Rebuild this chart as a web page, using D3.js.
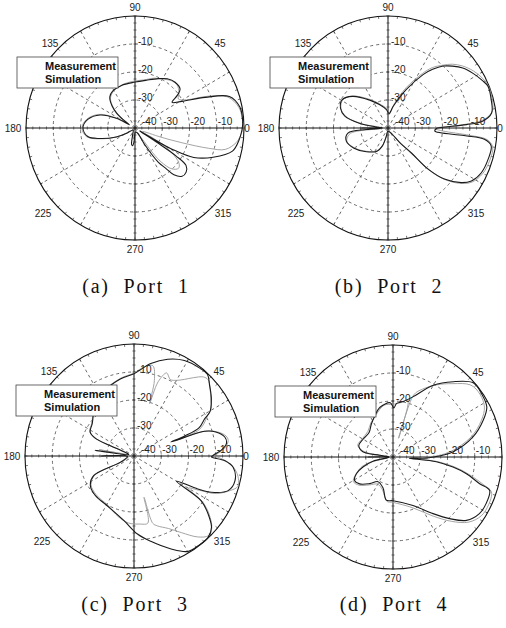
<!DOCTYPE html>
<meta charset="utf-8">
<style>
  body { margin: 0; background: #fff; }
  svg { display: block; }
  .lbl { font-family: Arial, "Liberation Sans", sans-serif; font-size: 10px; fill: #222; }
  .leg { font-family: Arial, "Liberation Sans", sans-serif; font-size: 11px; font-weight: bold; fill: #111; }
  .cap { font-family: "Liberation Serif", "Times New Roman", serif; font-size: 20px; fill: #111; word-spacing: 7px; letter-spacing: 1.8px; }
</style>
<svg width="506" height="628"></svg>
<script src="https://cdn.jsdelivr.net/npm/d3@7"></script>
<script>

// pattern data: [angle in degrees, level in dB], in drawing order
var port1Meas = [[0,-0.6],[4,-0.4],[11,-0.8],[18,-3.6],[23,-12],[29,-20.4],[34,-23.6],[37,-20.5],[40,-18.4],[48,-18],[56,-18.8],[64,-20.4],[76,-22.4],[90,-23.6],[108,-24],[122,-24.5],[130,-25.6],[137,-28.5],[142,-31.5],[146,-35],[150,-37.5],[153,-32.4],[160,-26.4],[170,-22.4],[180,-20.9],[190,-22.4],[196,-26.4],[205,-32.4],[212,-36.5],[225,-39],[250,-37.5],[258,-34],[262,-33.6],[266,-35],[275,-38.5],[297,-38],[301,-33],[305,-25],[308,-21.8],[310.5,-18],[315,-15.6],[320,-15.5],[324.5,-17],[326.5,-22],[327.5,-30],[328.5,-38],[329.5,-34],[331,-24],[334,-16],[340,-9.5],[347,-3.3],[354,-1.5],[360,-0.6]];
var port1Sim = [[0,-0.3],[5,-0.5],[11,-1.2],[18,-4.2],[23,-11],[28,-18.5],[33,-21],[38,-19.5],[45,-18.2],[52,-18.5],[58,-19.5],[68,-20.8],[80,-22.6],[90,-23.2],[105,-23.8],[120,-24.6],[130,-26],[137,-29],[143,-33],[149,-37],[154,-31],[160,-25.8],[170,-22],[180,-20.5],[190,-22],[197,-26.8],[206,-33],[214,-38],[240,-39],[262,-36],[280,-38.5],[300,-37],[303,-36],[308,-25],[313,-20],[318,-18.5],[322,-19.5],[327,-24],[331,-31],[334,-37],[336,-37],[341,-30],[343,-22],[345,-12],[347,-6],[352,-2.5],[356,-1.2],[360,-0.3]];

var port2Meas = [[0,-22],[1,-18.8],[2.4,-11.2],[4,-5.2],[8,-1.6],[15,-0.8],[22,-0.4],[26,-1.4],[32,-3.2],[38,-5.2],[43,-7.6],[47.5,-10],[52,-13.4],[56,-17],[64,-24.8],[76,-32],[86,-34.8],[95,-33.4],[110,-31.2],[124,-28],[139,-22.8],[149,-20.4],[158,-21.2],[165,-23.6],[171,-29.6],[175,-35.6],[178,-38],[180,-30.4],[182,-38],[184,-32],[187,-25.2],[197,-24],[210,-25.6],[227,-28.4],[244,-30.8],[252,-33.2],[258,-36.8],[268,-38.8],[300,-38],[310,-32.8],[314,-27.6],[315,-19.2],[318.6,-12.4],[324,-6.8],[328.3,-4],[335,-2.2],[343,-1.6],[350.4,-1.6],[353.5,-4.4],[354.5,-12],[356.4,-22.8],[360,-22]];
var port2Sim = [[0,-24],[1.5,-17],[3,-10],[5,-4.5],[9,-1.2],[15,-0.4],[22,-0.2],[27,-1],[33,-2.6],[39,-4.8],[44,-7.2],[48,-9.8],[53,-13],[57,-16.8],[65,-24],[75,-31],[85,-35],[95,-33],[110,-30.8],[124,-27.6],[139,-22.6],[149,-20.6],[158,-21.4],[165,-24],[171,-30],[176,-37],[180,-31.5],[184,-37],[188,-26],[197,-24.2],[210,-25.8],[227,-28.6],[244,-31],[252,-33.5],[258,-37],[270,-39],[300,-38.5],[308,-34],[313,-28],[315,-20],[318,-13],[323,-7.2],[328,-3.6],[335,-1.6],[343,-0.9],[350,-1],[353.5,-3.4],[355,-10],[357,-20],[360,-24]];

var port3Meas = [[0,-11.2],[1.2,-10.4],[3.6,-8],[7.4,-5.8],[11.5,-6],[16,-8.8],[18.8,-12.6],[19.7,-21.6],[20.3,-25.6],[21,-20],[23,-14],[27.2,-10.8],[29.5,-8],[35.8,-5],[42.3,-2.5],[47.3,-0.3],[52.2,-0.4],[61.5,-1.2],[70.3,-3.3],[79.4,-6.4],[90,-10.6],[100,-12],[115,-14.4],[130,-17.6],[143,-20.8],[152,-21.8],[156,-24.5],[157,-30.6],[158,-36],[165,-38],[172,-25.6],[175,-36.8],[180,-28],[184,-37.6],[204,-34.6],[205.4,-23.6],[213.5,-20.8],[225,-20],[241,-19.7],[261,-16.6],[272.6,-12.1],[281.4,-8.9],[292.3,-4.1],[300.1,-0.6],[307.1,-0.2],[313.1,-0.2],[318.1,-1.8],[322.7,-5.8],[327,-10.6],[330,-22],[333.3,-13.8],[335.5,-8.8],[340.3,-3.3],[346.6,-1.9],[353.7,-3.4],[357.1,-6.6],[359.3,-11.6],[360,-11.2]];
var port3Sim = [[0,-10.5],[2,-9],[5,-6.5],[9,-5],[12,-5.5],[16,-8.5],[19,-13],[20,-24],[21,-15],[24,-12],[28,-9.5],[31,-7],[36,-5.2],[41,-3],[45,-1.5],[48,-2],[52,-4.5],[56,-7],[60,-8.8],[64,-9.6],[68,-8],[71.5,-12],[73,-20.4],[74.5,-12],[78,-7],[84,-8.2],[90,-10.4],[100,-11.8],[115,-14.2],[130,-17.4],[143,-20.6],[152,-21.6],[156,-25],[157.5,-33],[162,-38],[170,-27],[173,-37],[181,-29],[185,-38],[204,-36],[205.5,-24],[213,-21.2],[225,-20.4],[241,-20],[255,-17.6],[265,-16],[275,-15.6],[282,-15.5],[284,-24.8],[286,-15],[289,-13.6],[296,-11.2],[302.4,-7.6],[309,-2.8],[314,-0.5],[318,-1.6],[323,-5.5],[327,-10],[330,-17],[333,-13],[336,-7],[341,-2.4],[344,-0.4],[348,-0.8],[353,-2.8],[357,-6.2],[360,-10.5]];

var port4Meas = [[0,-25.2],[4.7,-18],[13.7,-9.8],[21.6,-4.4],[27.5,-1.2],[35,-0.4],[42,-0.4],[50.6,-5.2],[60,-10.4],[71,-17.2],[80,-20],[86,-20.8],[89,-22.4],[93,-20.6],[105,-21.6],[115,-24],[124,-25.8],[135,-27.6],[150,-27.3],[162,-26.8],[170.5,-28.8],[173,-35],[177,-38.5],[180,-30.8],[183,-38.5],[191.4,-32.5],[198,-28.4],[204,-25.3],[210.6,-23.6],[218,-24.4],[228,-27.2],[238,-29.6],[251.5,-28.4],[261,-24.4],[270,-24.4],[293,-21.2],[306,-15],[313.4,-9.7],[320,-4.8],[327.5,-2.4],[334,-2],[341.4,-2.6],[343.3,-6.8],[347.5,-12.4],[350.7,-17.7],[354,-24],[356,-34],[358,-28],[360,-25.2]];
var port4Sim = [[0,-26],[5,-19],[14,-10.5],[22,-5],[28,-2],[35,-1],[42,-1.6],[50,-5.8],[58,-9.6],[66,-13.5],[71,-16.5],[73,-33],[75,-19],[82,-20.4],[90,-21.2],[100,-21.2],[112,-23.6],[124,-25.4],[135,-27],[150,-27],[162,-26.4],[170,-29.5],[174,-36],[180,-32],[186,-38],[193,-31],[198,-27.5],[205,-24.8],[211,-23],[219,-24],[229,-26.8],[240,-28.8],[252,-27.6],[262,-24],[270,-23.8],[292,-20.4],[305,-14.2],[313,-8.6],[320,-3.8],[327,-1.4],[334,-1],[341,-1.8],[343.5,-5.5],[347.5,-11.5],[351,-17],[354,-23],[357,-31],[360,-26]];

var captions = ["(a) Port 1", "(b) Port 2", "(c) Port 3", "(d) Port 4"];
var legendNames = ["Measurement", "Simulation"];
var ringLevels = [-30, -20, -10];
var ringLabels = ["-10", "-20", "-30"];
var rLabelLevels = [-10, -20, -30];
var angleLabels = ["0", "45", "90", "135", "180", "225", "270", "315"];
var angleTicks = [0, 45, 90, 135, 180, 225, 270, 315];

var svg = d3.select("svg");
var RX = 109, RY = 112;
var rX = d3.scaleLinear().domain([-40, 0]).range([0, RX]).clamp(true);
var rY = d3.scaleLinear().domain([-40, 0]).range([0, RY]).clamp(true);
var rad = function(a) { return a * Math.PI / 180; };

var line = d3.line()
    .x(function(d) { return rX(d[1]) * Math.cos(rad(d[0])); })
    .y(function(d) { return -rY(d[1]) * Math.sin(rad(d[0])); })
    .curve(d3.curveCatmullRom.alpha(0.5));

// label offsets from the centre for each angle label
var angleOffset = {
    0:   [112, 0], 45: [85, -85], 90: [0, -121], 135: [-85, -85],
    180: [-122, 0], 225: [-92, 85], 270: [0, 121], 315: [88, 85]
};

var panels = [
    {cx: 135, cy: 128, meas: port1Meas, sim: port1Sim, capY: 293, zero: true},
    {cx: 388, cy: 128, meas: port2Meas, sim: port2Sim, capY: 293, zero: true},
    {cx: 134, cy: 456, meas: port3Meas, sim: port3Sim, capY: 611, zero: true},
    {cx: 393, cy: 457, meas: port4Meas, sim: port4Sim, capY: 611, zero: false}
];

panels.forEach(function(p, i) {
    var g = svg.append("g").attr("transform", "translate(" + p.cx + "," + p.cy + ")");

    // dashed rings
    g.selectAll("ellipse.ring").data(ringLevels).enter().append("ellipse")
        .attr("rx", function(d) { return rX(d); })
        .attr("ry", function(d) { return rY(d); })
        .attr("fill", "none").attr("stroke", "#444")
        .attr("stroke-width", 0.8).attr("stroke-dasharray", "3,3");

    // dashed spokes every 30 deg
    var spokes = d3.range(0, 360, 30).filter(function(a) { return a % 90 !== 0; });
    g.selectAll("line.spoke").data(spokes).enter().append("line")
        .attr("x2", function(a) { return RX * Math.cos(rad(a)); })
        .attr("y2", function(a) { return -RY * Math.sin(rad(a)); })
        .attr("stroke", "#444").attr("stroke-width", 0.8).attr("stroke-dasharray", "3,3");

    // solid axes
    g.append("line").attr("x1", -RX).attr("x2", RX).attr("stroke", "#111").attr("stroke-width", 1);
    g.append("line").attr("y1", -RY).attr("y2", RY).attr("stroke", "#111").attr("stroke-width", 1);

    // small ticks along axes
    var steps = d3.range(-RX, RX + 0.1, RX / 16);
    g.selectAll("line.ht").data(steps).enter().append("line")
        .attr("x1", function(d) { return d; }).attr("x2", function(d) { return d; })
        .attr("y1", -1.5).attr("y2", 1.5).attr("stroke", "#333").attr("stroke-width", 0.7);
    var vsteps = d3.range(-RY, RY + 0.1, RY / 16);
    g.selectAll("line.vt").data(vsteps).enter().append("line")
        .attr("y1", function(d) { return d; }).attr("y2", function(d) { return d; })
        .attr("x1", -1.5).attr("x2", 1.5).attr("stroke", "#333").attr("stroke-width", 0.7);

    // outer circle + ticks
    g.append("ellipse").attr("rx", RX).attr("ry", RY)
        .attr("fill", "none").attr("stroke", "#111").attr("stroke-width", 1.1);
    g.selectAll("line.ot").data(d3.range(0, 360, 5)).enter().append("line")
        .attr("x1", function(a) { return RX * Math.cos(rad(a)); })
        .attr("y1", function(a) { return -RY * Math.sin(rad(a)); })
        .attr("x2", function(a) { return (RX - 2.5) * Math.cos(rad(a)); })
        .attr("y2", function(a) { return -(RY - 2.5) * Math.sin(rad(a)); })
        .attr("stroke", "#333").attr("stroke-width", 0.7);

    // pattern curves
    g.append("path").datum(p.sim).attr("d", line)
        .attr("fill", "none").attr("stroke", "#9a9a9a").attr("stroke-width", 0.9);
    g.append("path").datum(p.meas).attr("d", line)
        .attr("fill", "none").attr("stroke", "#1a1a1a").attr("stroke-width", 1.1);

    // radial level labels
    g.selectAll("text.rv").data(rLabelLevels).enter().append("text")
        .attr("class", "lbl").attr("x", 3)
        .attr("y", function(d) { return -rY(d) - 3; })
        .attr("dy", "0.35em")
        .text(function(d, j) { return ringLabels[j]; });
    g.selectAll("text.rh").data(ringLevels).enter().append("text")
        .attr("class", "lbl")
        .attr("x", function(d) { return rX(d) + 1; })
        .attr("y", -7).attr("dy", "0.35em")
        .text(function(d) { return String(d); });
    g.append("text").attr("class", "lbl").attr("x", 7).attr("y", -7).attr("dy", "0.35em").text("-40");

    // angle labels
    var shown = angleTicks.filter(function(a) { return p.zero || a !== 0; });
    g.selectAll("text.ang").data(shown).enter().append("text")
        .attr("class", "lbl")
        .attr("text-anchor", "middle")
        .attr("dy", "0.35em")
        .attr("x", function(a) { return angleOffset[a][0]; })
        .attr("y", function(a) { return angleOffset[a][1]; })
        .text(function(a) { return angleLabels[angleTicks.indexOf(a)]; });

    // legend box (covers the curves)
    var lg = g.append("g").attr("transform", "translate(-118,-71)");
    lg.append("rect").attr("width", 101).attr("height", 31)
        .attr("fill", "#fff").attr("stroke", "#444").attr("stroke-width", 0.8);
    lg.selectAll("text").data(legendNames).enter().append("text")
        .attr("class", "leg").attr("x", 28)
        .attr("y", function(d, j) { return 13 + j * 13; })
        .text(function(d) { return d; });

    // caption
    svg.append("text").attr("class", "cap")
        .attr("x", p.cx + 1).attr("y", p.capY)
        .attr("text-anchor", "middle")
        .text(captions[i]);
});

</script>
